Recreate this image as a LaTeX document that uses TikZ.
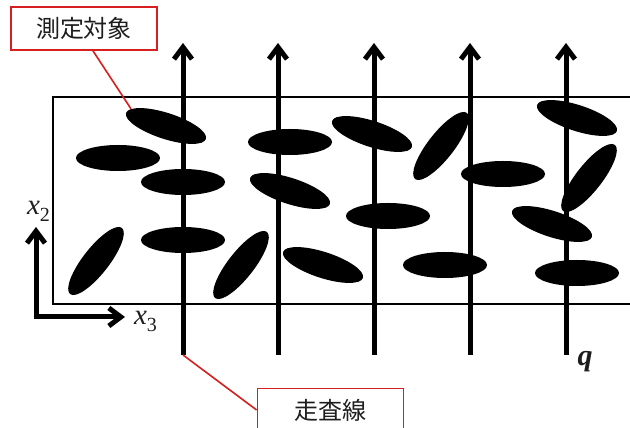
\documentclass[tikz,border=0pt]{standalone}
\usepackage{fontspec}
\setmainfont{Liberation Serif}
\newfontfamily\jpfont{Noto Sans CJK JP}
\usetikzlibrary{arrows.meta,shapes.geometric}
\definecolor{leadred}{RGB}{214,32,32}
\definecolor{txtgray}{RGB}{30,30,30}
\newcommand{\axlabel}[2]{{\fontsize{29}{29}\selectfont\itshape #1}\raisebox{-7pt}{\fontsize{20}{20}\selectfont #2}}
\begin{document}
\begin{tikzpicture}[x=1pt,y=1pt,
  blob/.style={ellipse, fill=black, minimum width=84pt, minimum height=26pt, inner sep=0pt},
  scan/.style={line width=5pt, -{Straight Barb[length=12pt,width=18pt]}},
  axisline/.style={line width=5pt, line join=miter, {Straight Barb[length=12pt,width=18pt]}-{Straight Barb[length=12pt,width=18pt]}},
  frame/.style={line width=2.8pt},
  leader/.style={draw=leadred, line width=1.6pt},
  lbl/.style={draw=leadred, line width=1.8pt, fill=white, minimum width=146pt, minimum height=43pt, inner sep=0pt, font=\jpfont\fontsize{24}{24}\selectfont, text=txtgray},
  lab/.style={inner sep=0pt, text=txtgray}]
\clip (0,0) rectangle (630,428);
% sample frame
\draw[frame] (53,124) rectangle (645,331);
% scan lines
\foreach \i/\x in {1/183,2/278,3/374,4/470,5/566}{
  \coordinate (b\i) at (\x,73);
  \coordinate (t\i) at (\x,385);
}
\foreach \i in {1,...,5}{\draw[scan] (b\i) -- (t\i);}
% objects
\node[blob, rotate=-18] (e1) at (166,302) {};
\node[blob] (e2) at (118,270) {};
\node[blob] (e3) at (183,246) {};
\node[blob] (e4) at (183,188) {};
\node[blob, rotate=52] (e5) at (96,167) {};
\node[blob, rotate=52] (e6) at (241,163) {};
\node[blob] (e7) at (290,286) {};
\node[blob, rotate=-18] (e8) at (290,237) {};
\node[blob, rotate=-18] (e9) at (323,163) {};
\node[blob, rotate=-18] (e10) at (372,294) {};
\node[blob] (e11) at (388,212) {};
\node[blob] (e12) at (445,163) {};
\node[blob, rotate=52] (e13) at (441,282) {};
\node[blob] (e14) at (503,254) {};
\node[blob, rotate=-18] (e15) at (577,310) {};
\node[blob, rotate=52] (e16) at (589,250) {};
\node[blob, rotate=-18] (e17) at (552,204) {};
\node[blob] (e18) at (577,155) {};
% axes
\coordinate (o) at (36,111);
\coordinate (ax2) at (36,201);
\coordinate (ax3) at (125,111);
\draw[axisline] (ax2) -- (o) -- (ax3);
\node[lab] (lx2) at (38.5,216.5) {\axlabel{x}{2}};
\node[lab] (lx3) at (145.5,106.5) {\axlabel{x}{3}};
\node[lab, font=\fontsize{30}{30}\selectfont\bfseries\itshape] (lq) at (585,66.5) {q};
% labels
\node[lbl] (l1) at (84,399.5) {測定対象};
\node[lbl] (l2) at (330.5,18) {走査線};
\draw[leader] ([xshift=9pt]l1.south) -- (e1.172);
\draw[leader] (b1) -- (l2.west);
\end{tikzpicture}
\end{document}
